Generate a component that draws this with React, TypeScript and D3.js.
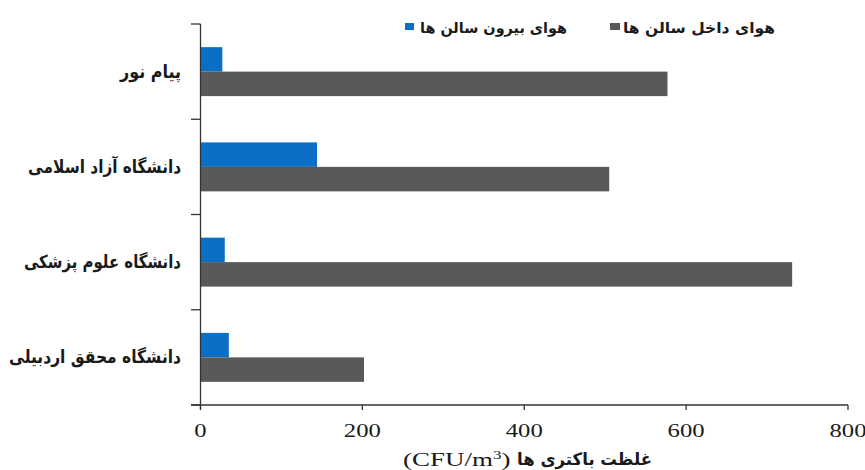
import React from "react";
import * as d3 from "d3";

const categories = ["پیام نور", "دانشگاه آزاد اسلامی", "دانشگاه علوم پزشکی", "دانشگاه محقق اردبیلی"];
const outdoorValues = [27, 144, 30, 35];
const indoorValues = [577, 505, 731, 202];
const seriesNames = ["هوای بیرون سالن ها", "هوای داخل سالن ها"];
const xTicks = [0, 200, 400, 600, 800];
const xTitlePersian = "غلظت باکتری ها";
const xTitleUnit = "CFU/m";

const categoryWidths = [61, 153, 157, 172];
const legendWidths = [147, 152];

const W = 865;
const H = 470;
const BLUE = "#0b6fc5";
const GRAY = "#595959";
const AXIS = "#333333";
const SX = 1.3;
const persianFont = "'DejaVu Sans', sans-serif";
const serifFont = "'Liberation Serif', 'Times New Roman', serif";

function SText({ x, y, anchor, size, font, weight, children, sx = SX }: any) {
  return (
    <g transform={`translate(${x},${y}) scale(${sx},1)`}>
      <text x={0} y={0} textAnchor={anchor} fontSize={size} fontFamily={font} fontWeight={weight} fill="#1a1a1a">
        {children}
      </text>
    </g>
  );
}

function PText({ x, y, size, len, children }: any) {
  return (
    <text
      x={x}
      y={y}
      textAnchor="end"
      fontSize={size}
      fontFamily={persianFont}
      fontWeight="bold"
      fill="#1a1a1a"
      textLength={len}
      lengthAdjust="spacingAndGlyphs"
    >
      {children}
    </text>
  );
}

export default function App() {
  const x = d3.scaleLinear().domain([0, 800]).range([200.5, 848]);
  const y = d3.scaleBand<string>().domain(categories).range([24, 405]).paddingInner(0.486).paddingOuter(0.243);
  const sub = d3.scaleBand<number>().domain([0, 1]).range([0, y.bandwidth()]);
  const boundaries = d3.range(categories.length + 1).map((i) => 24 + i * y.step());

  return (
    <svg width={W} height={H} style={{ position: "absolute", left: 0, top: 0, background: "#fff" }}>
      {categories.map((c, i) => (
        <g key={c}>
          <rect x={x(0)} y={(y(c) as number) + (sub(0) as number)} width={x(outdoorValues[i]) - x(0)} height={sub.bandwidth()} fill={BLUE} />
          <rect x={x(0)} y={(y(c) as number) + (sub(1) as number)} width={x(indoorValues[i]) - x(0)} height={sub.bandwidth()} fill={GRAY} />
          <PText x={181} y={(y(c) as number) + y.bandwidth() / 2 + 6} size={18} len={categoryWidths[i]}>
            {c}
          </PText>
        </g>
      ))}
      {/* y axis */}
      <line x1={x(0)} x2={x(0)} y1={24} y2={409} stroke={AXIS} strokeWidth={1.3} />
      {boundaries.map((b, i) => (
        <line key={i} x1={191} x2={x(0)} y1={b} y2={b} stroke={AXIS} strokeWidth={1.3} />
      ))}
      {/* x axis */}
      <line x1={191} x2={x(800)} y1={405} y2={405} stroke={AXIS} strokeWidth={1.3} />
      {xTicks.map((t) => (
        <g key={t}>
          <line x1={x(t)} x2={x(t)} y1={405} y2={410} stroke={AXIS} strokeWidth={1.3} />
          <SText x={x(t)} y={437} anchor="middle" size={19} font={serifFont} weight="normal">
            {String(t)}
          </SText>
        </g>
      ))}
      {/* x title */}
      <PText x={652} y={465} size={17} len={135}>
        {xTitlePersian}
      </PText>
      <SText x={403} y={466} anchor="start" size={19} font={serifFont} weight="normal" sx={1.42}>
        ({xTitleUnit}<tspan fontSize={12} dy={-7}>3</tspan><tspan dy={7}>)</tspan>
      </SText>
      {/* legend */}
      <rect x={610} y={23} width={10} height={7} fill={GRAY} />
      <PText x={775} y={33} size={15} len={legendWidths[1]}>
        {seriesNames[1]}
      </PText>
      <rect x={405} y={23} width={9} height={7} fill={BLUE} />
      <PText x={567} y={33} size={15} len={legendWidths[0]}>
        {seriesNames[0]}
      </PText>
    </svg>
  );
}
